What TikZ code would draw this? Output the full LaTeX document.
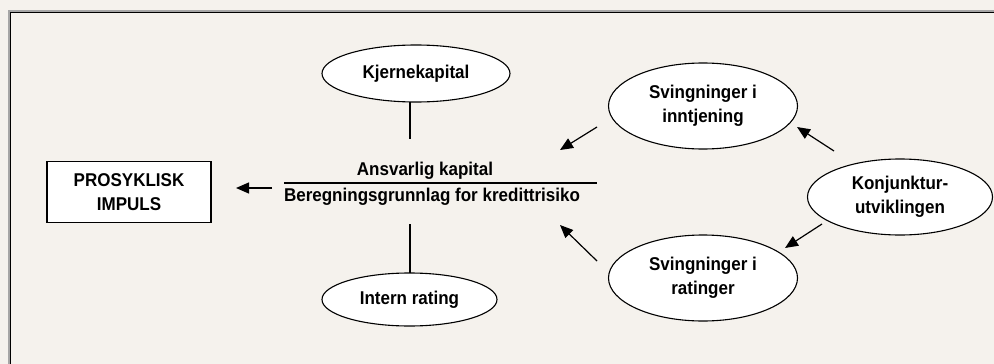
\documentclass[tikz,border=0pt]{standalone}
\usepackage{fontspec}
\setmainfont{Liberation Sans}[FakeStretch=0.92]
\usetikzlibrary{shapes.geometric,arrows.meta}
\definecolor{paper}{RGB}{245,242,237}
\begin{document}
\begin{tikzpicture}[x=1pt,y=-1pt,
  every node/.style={font=\fontsize{18.5}{23.5}\selectfont\bfseries, align=center},
  oval/.style={ellipse, draw, fill=white, line width=1.1pt, inner sep=0pt},
  push/.style={-{Triangle[length=13pt,width=11pt]}, line width=1.2pt},
  link/.style={line width=1.1pt}]
\useasboundingbox (0,0) rectangle (994,364);
\fill[paper] (0,0) rectangle (994,364);

% frame
\draw[black!35, line width=1.2pt] (9,364) -- (9,11) -- (994,11);
\draw[line width=1.6pt] (10.5,364) -- (10.5,12.5) -- (994,12.5);

% impulse box
\node[draw, fill=white, line width=1.1pt, minimum width=164, minimum height=61, inner sep=0pt] (impuls) at (129,192) {PROSYKLISK\\IMPULS};

% capital ratio
\node (ansvar) at (425,171) {Ansvarlig kapital};
\node (grunnlag) at (432,197) {Beregningsgrunnlag for kredittrisiko};
\coordinate (brokL) at (284,183);
\coordinate (brokR) at (597,183);
\draw[link] (brokL) -- (brokR);

% drivers of the ratio
\node[oval, minimum width=188, minimum height=57] (kjerne) at (416,73.5) {Kjernekapital};
\node[oval, minimum width=175, minimum height=53] (intern) at (409.5,299.5) {Intern rating};
\node[oval, minimum width=189, minimum height=86] (inntjening) at (703,106) {Svingninger i\\inntjening};
\node[oval, minimum width=189, minimum height=86] (ratinger) at (703,278) {Svingninger i\\ratinger};
\node[oval, minimum width=185, minimum height=76] (konj) at (900,197) {Konjunktur-\\utviklingen};

\coordinate (kjerneA) at (410,102);
\coordinate (kjerneB) at (410,139);
\coordinate (internA) at (410,224);
\coordinate (internB) at (410,273);
\draw[link] (kjerneA) -- (kjerneB);
\draw[link] (internA) -- (internB);

\coordinate (impA) at (272,188);
\coordinate (impB) at (236,188);
\coordinate (innA) at (597,127);
\coordinate (innB) at (560,150);
\coordinate (ratA) at (597,261);
\coordinate (ratB) at (560,225);
\coordinate (konjA) at (834,151);
\coordinate (konjB) at (797,127);
\coordinate (konjC) at (822,224);
\coordinate (konjD) at (785,248);
\draw[push] (impA) -- (impB);
\draw[push] (innA) -- (innB);
\draw[push] (ratA) -- (ratB);
\draw[push] (konjA) -- (konjB);
\draw[push] (konjC) -- (konjD);
\end{tikzpicture}
\end{document}
